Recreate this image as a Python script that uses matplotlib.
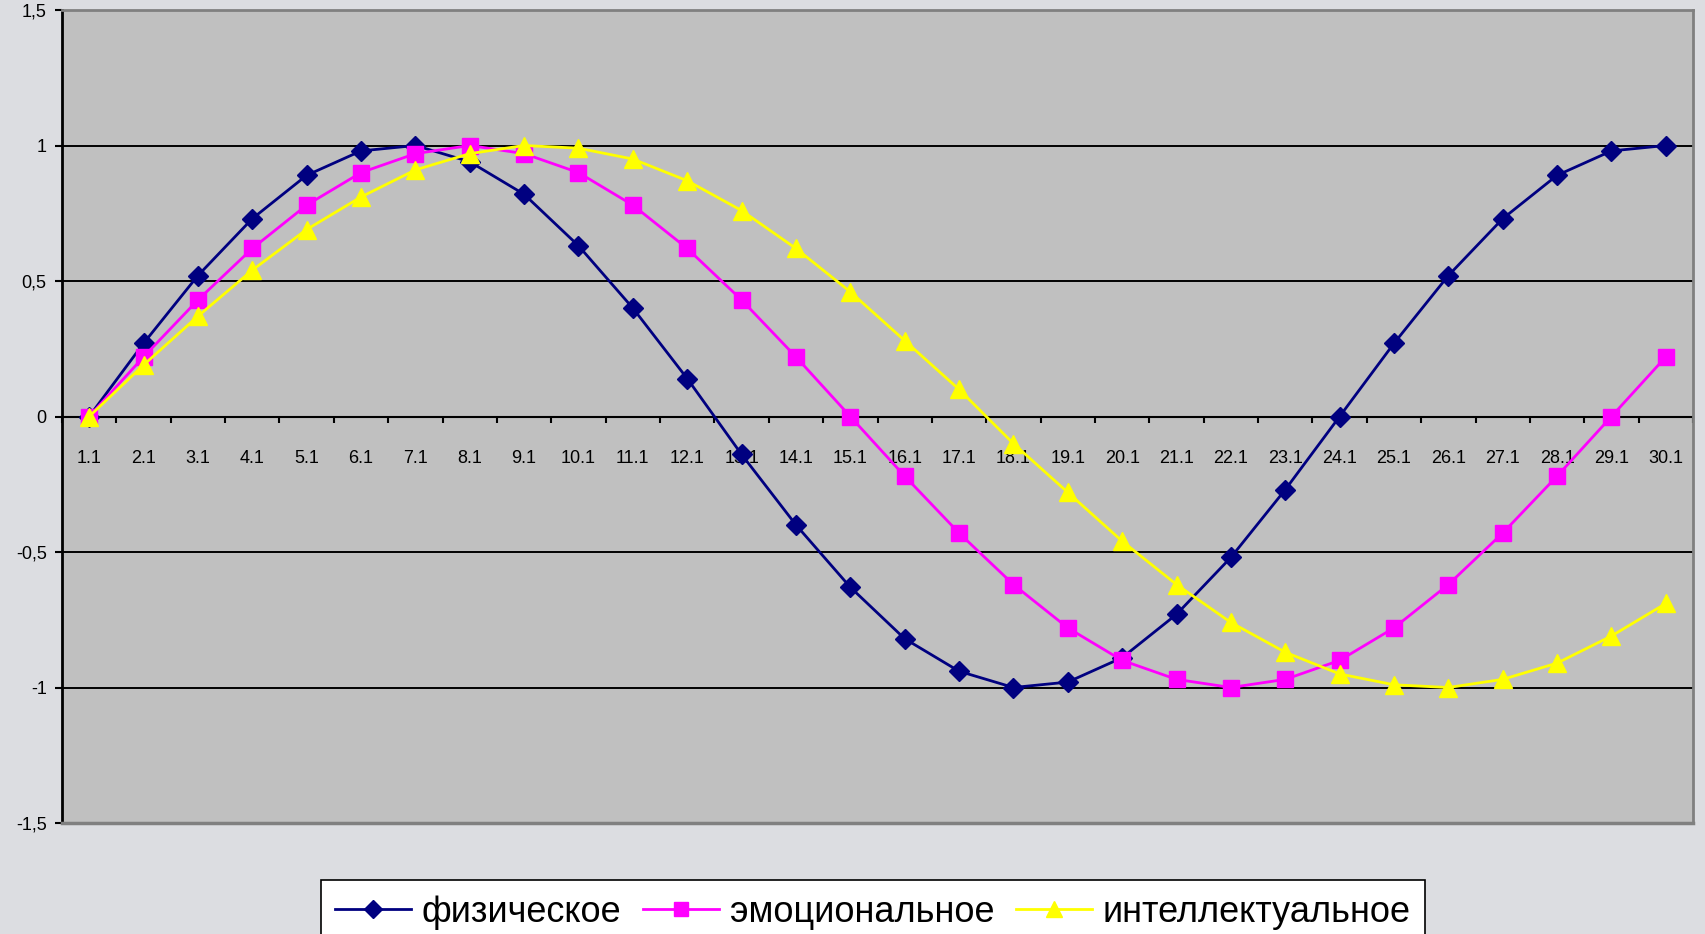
import matplotlib
matplotlib.use("Agg")
import matplotlib.pyplot as plt

# days of the month shown on the x axis
days = ["1.1", "2.1", "3.1", "4.1", "5.1", "6.1", "7.1", "8.1", "9.1", "10.1",
        "11.1", "12.1", "13.1", "14.1", "15.1", "16.1", "17.1", "18.1", "19.1", "20.1",
        "21.1", "22.1", "23.1", "24.1", "25.1", "26.1", "27.1", "28.1", "29.1", "30.1"]

physical = [0.00, 0.27, 0.52, 0.73, 0.89, 0.98, 1.00, 0.94, 0.82, 0.63,
            0.40, 0.14, -0.14, -0.40, -0.63, -0.82, -0.94, -1.00, -0.98, -0.89,
            -0.73, -0.52, -0.27, 0.00, 0.27, 0.52, 0.73, 0.89, 0.98, 1.00]

emotional = [0.00, 0.22, 0.43, 0.62, 0.78, 0.90, 0.97, 1.00, 0.97, 0.90,
             0.78, 0.62, 0.43, 0.22, 0.00, -0.22, -0.43, -0.62, -0.78, -0.90,
             -0.97, -1.00, -0.97, -0.90, -0.78, -0.62, -0.43, -0.22, 0.00, 0.22]

intellectual = [0.00, 0.19, 0.37, 0.54, 0.69, 0.81, 0.91, 0.97, 1.00, 0.99,
                0.95, 0.87, 0.76, 0.62, 0.46, 0.28, 0.10, -0.10, -0.28, -0.46,
                -0.62, -0.76, -0.87, -0.95, -0.99, -1.00, -0.97, -0.91, -0.81, -0.69]

series_names = ["физическое", "эмоциональное", "интеллектуальное"]
y_ticks = [-1.5, -1, -0.5, 0, 0.5, 1, 1.5]
y_labels = ["-1,5", "-1", "-0,5", "0", "0,5", "1", "1,5"]

plt.rcParams["font.family"] = ["Liberation Sans", "DejaVu Sans"]

fig = plt.figure(figsize=(17.05, 9.34), dpi=100)
fig.patch.set_facecolor("#dcdde1")
ax = fig.add_axes([62 / 1705, 1 - 823 / 934, 1631 / 1705, 813 / 934])
ax.set_facecolor("#c0c0c0")

x = list(range(len(days)))

# horizontal grid lines
for g in [-1, -0.5, 0.5, 1]:
    ax.axhline(g, color="black", lw=1.4, zorder=1)

ax.plot(x, physical, color="#000080", lw=2, marker="D", ms=10,
        label=series_names[0], zorder=3, clip_on=False)
ax.plot(x, emotional, color="#ff00ff", lw=2, marker="s", ms=11,
        label=series_names[1], zorder=4, clip_on=False)
ax.plot(x, intellectual, color="#ffff00", lw=2, marker="^", ms=13,
        label=series_names[2], zorder=5, clip_on=False)

ax.set_xlim(-0.5, len(days) - 0.5)
ax.set_ylim(-1.5, 1.5)

# y axis
ax.set_yticks(y_ticks)
ax.set_yticklabels(y_labels)
ax.tick_params(axis="y", direction="out", length=5, width=1.5, pad=6,
               labelsize=13, colors="black")

# category axis crossing at zero: tick marks between days, labels under each day
ax.spines["bottom"].set_position(("data", 0))
ax.spines["bottom"].set_color("black")
ax.spines["bottom"].set_linewidth(1.5)
ax.spines["bottom"].set_zorder(2)
ax.set_xticks([i - 0.5 for i in x] + [len(days) - 0.5])
ax.set_xticklabels([])
ax.set_xticks(x, minor=True)
ax.set_xticklabels(days, minor=True)
ax.tick_params(axis="x", which="major", direction="out", length=4, width=1.5)
ax.tick_params(axis="x", which="minor", length=0, pad=24, labelsize=13)

for side in ["top", "right"]:
    ax.spines[side].set_color("#808080")
    ax.spines[side].set_linewidth(2)
ax.spines["left"].set_color("black")
ax.spines["left"].set_linewidth(2)
# lower border of the plot area
ax.plot([0, 1], [0, 0], transform=ax.transAxes, color="#808080", lw=2.5,
        clip_on=False, zorder=6)

leg = fig.legend(loc="upper center", bbox_to_anchor=(873 / 1705, 1 - 862 / 934),
                 ncol=3, frameon=True, fancybox=False, framealpha=1,
                 edgecolor="black", prop={"size": 26},
                 handlelength=2.1, handletextpad=0.3, columnspacing=0.6,
                 borderpad=0.4, markerscale=0.9)
leg.get_frame().set_linewidth(1.2)

fig.savefig("out.png", dpi=100, facecolor=fig.get_facecolor())
